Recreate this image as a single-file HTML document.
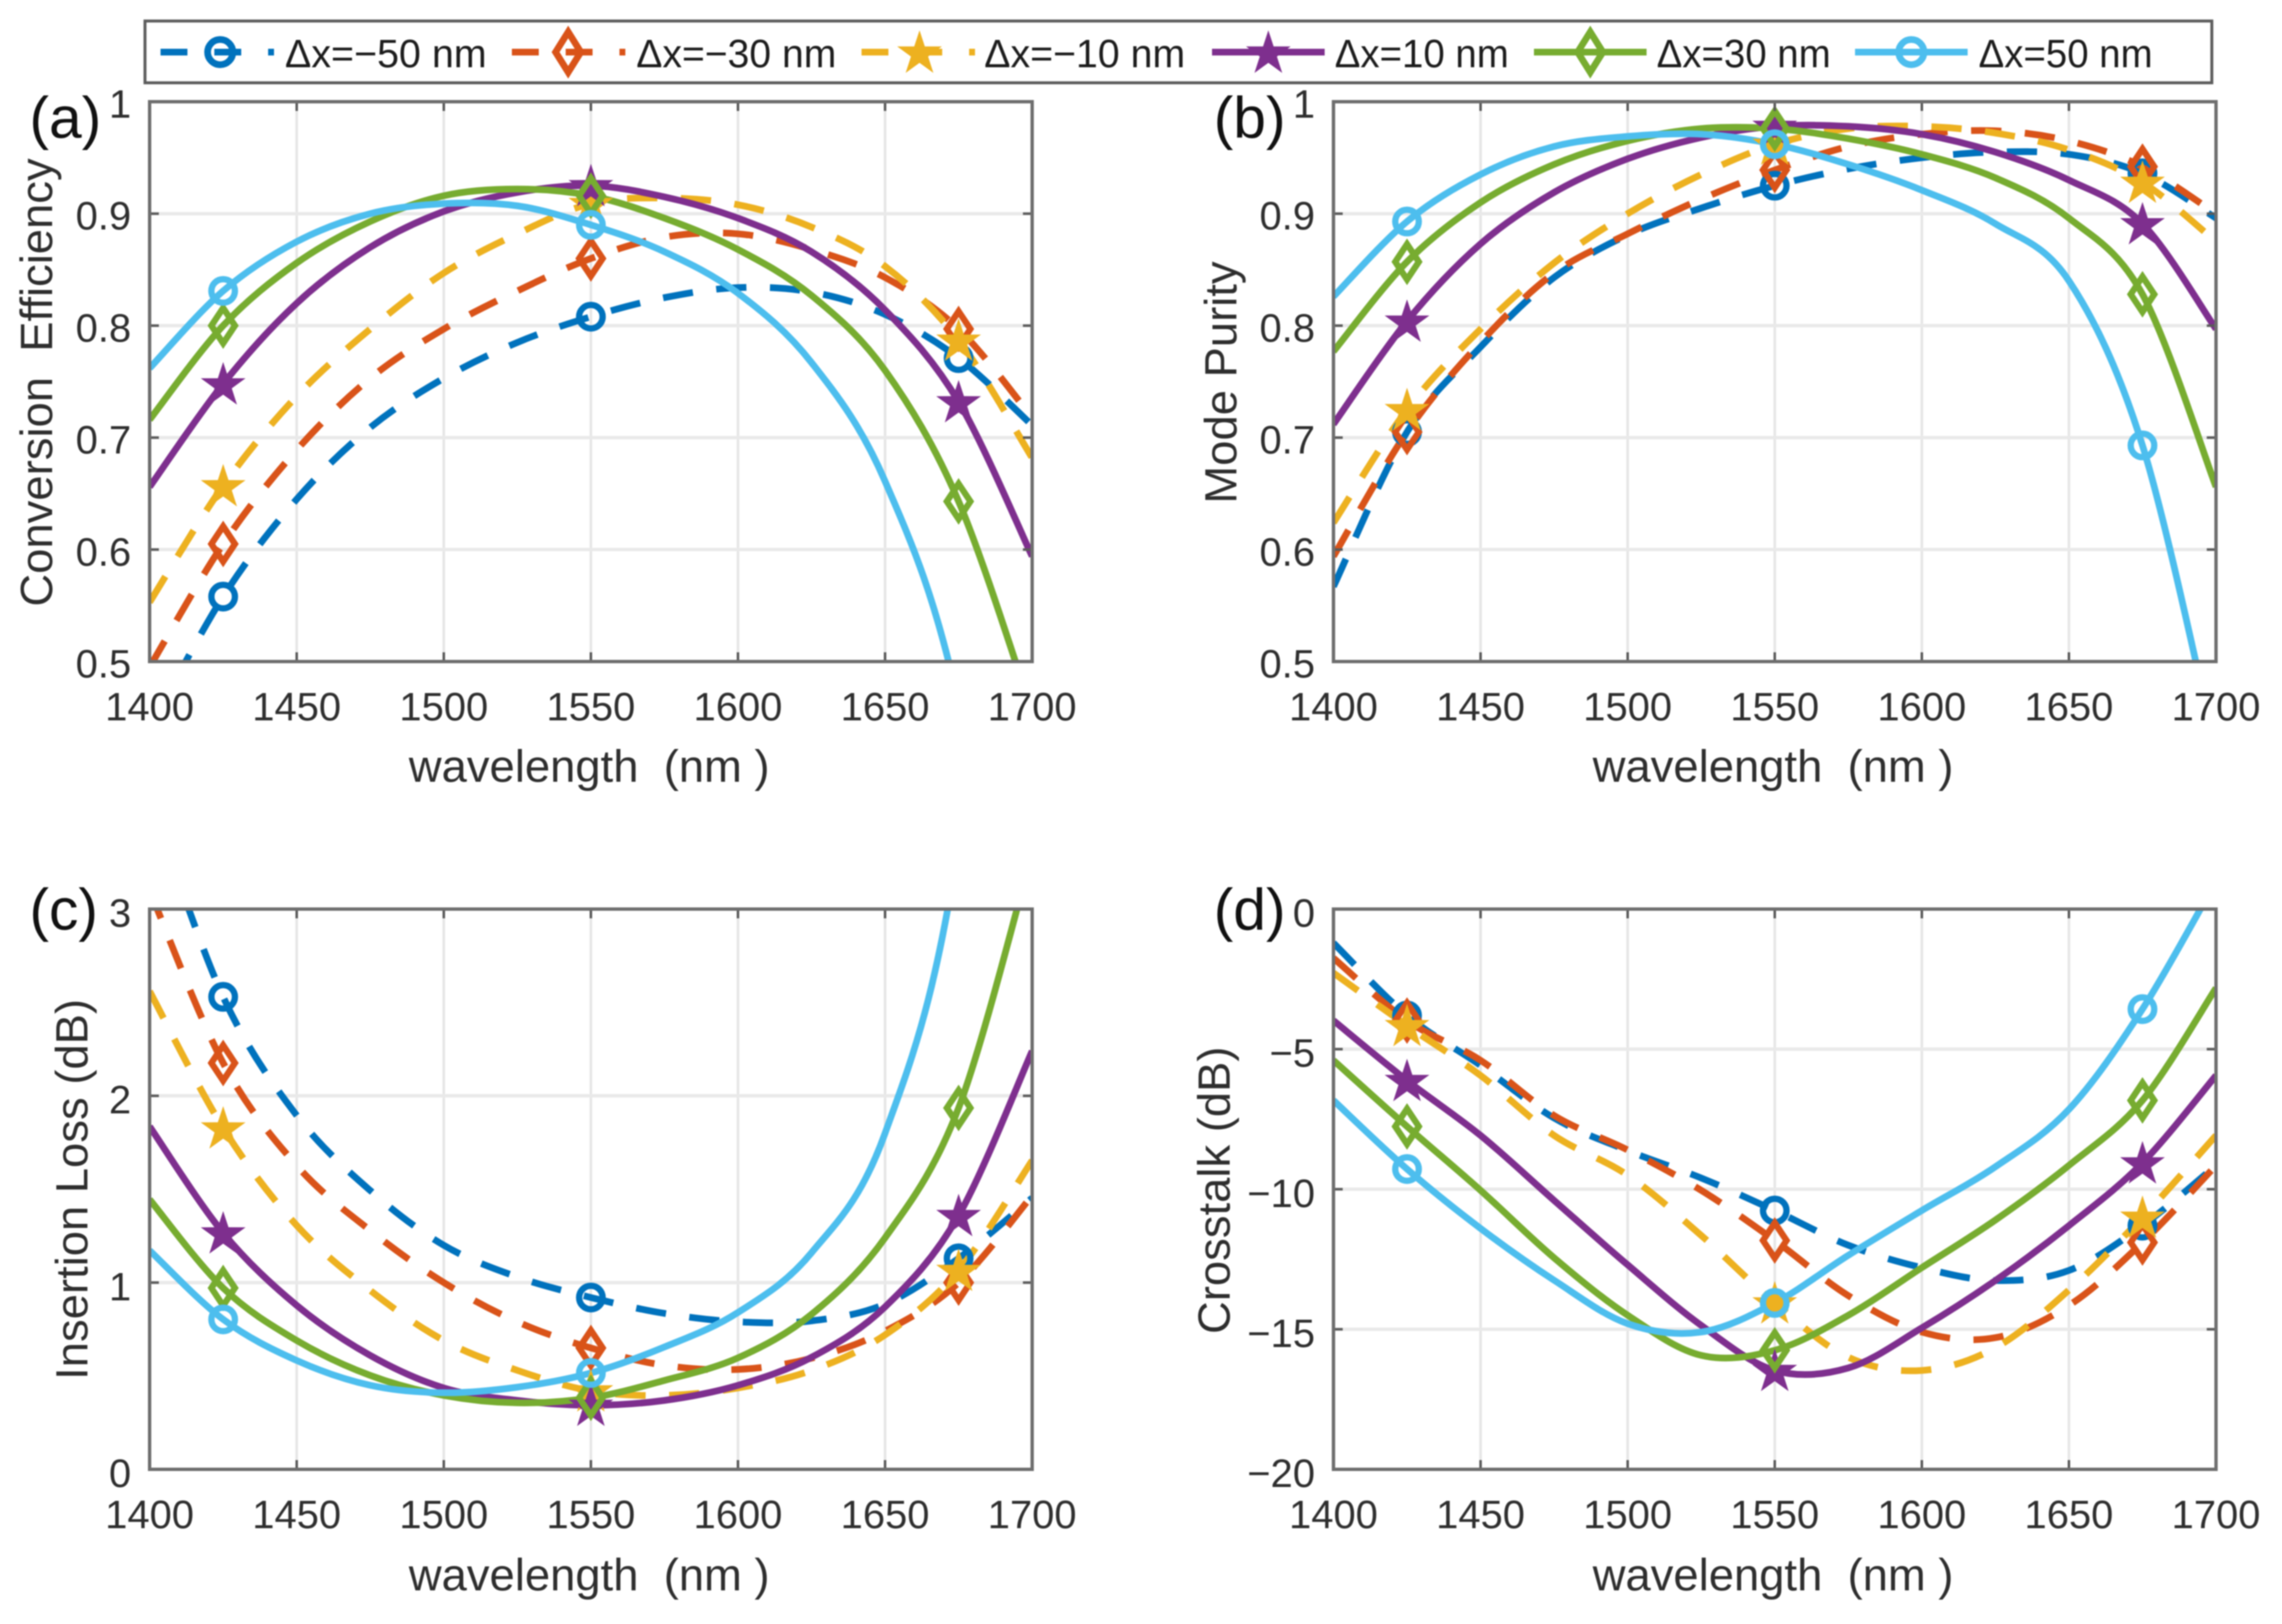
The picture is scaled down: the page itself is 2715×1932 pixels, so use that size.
<!DOCTYPE html>
<html lang="en">
<head>
<meta charset="utf-8">
<title>Mode converter performance versus wavelength</title>
<style>
html,body{margin:0;padding:0;background:#fff;}
#figure{display:block;width:2715px;height:1932px;filter:blur(0.8px);}
text{font-family:"Liberation Sans",sans-serif;fill:#2e2e2e;}
.legend-text{font-size:47.5px;fill:#1c1c1c;}
.panel-letter{font-size:70px;fill:#111;}
</style>
</head>
<body>
<svg id="figure" xmlns="http://www.w3.org/2000/svg" width="2715" height="1932" viewBox="0 0 2715 1932">
<rect x="0" y="0" width="2715" height="1932" fill="#fff"/>
<g id="plots"></g>
<g id="legend">
  <rect x="172.5" y="25" width="2459" height="73.5" fill="#fff" stroke="#5c5c5c" stroke-width="3.5"/>
  <g>
    <line x1="191" y1="62" x2="326" y2="62" stroke="#0072BD" stroke-width="8" stroke-dasharray="32 32"/>
    <circle cx="262" cy="62" r="15" fill="none" stroke="#0072BD" stroke-width="8"/>
    <text class="legend-text" x="339" y="80" textLength="240" lengthAdjust="spacingAndGlyphs">Δx=−50 nm</text>
  </g>
  <g>
    <line x1="609" y1="62" x2="744" y2="62" stroke="#D95319" stroke-width="8" stroke-dasharray="32 32"/>
    <polygon points="676,38 691,62 676,86 661,62" fill="none" stroke="#D95319" stroke-width="8"/>
    <text class="legend-text" x="757" y="80" textLength="238" lengthAdjust="spacingAndGlyphs">Δx=−30 nm</text>
  </g>
  <g>
    <line x1="1025" y1="62" x2="1160" y2="62" stroke="#EDB120" stroke-width="8" stroke-dasharray="32 32"/>
    <polygon transform="translate(1094 64)" points="0,-28 6.3,-8.7 26.6,-8.7 10.2,3.3 16.5,22.7 0,10.8 -16.5,22.7 -10.2,3.3 -26.6,-8.7 -6.3,-8.7" fill="#EDB120"/>
    <text class="legend-text" x="1171" y="80" textLength="239" lengthAdjust="spacingAndGlyphs">Δx=−10 nm</text>
  </g>
  <g>
    <line x1="1442" y1="62" x2="1576" y2="62" stroke="#7E2F8E" stroke-width="8"/>
    <polygon transform="translate(1509 64)" points="0,-28 6.3,-8.7 26.6,-8.7 10.2,3.3 16.5,22.7 0,10.8 -16.5,22.7 -10.2,3.3 -26.6,-8.7 -6.3,-8.7" fill="#7E2F8E"/>
    <text class="legend-text" x="1588" y="80" textLength="207" lengthAdjust="spacingAndGlyphs">Δx=10 nm</text>
  </g>
  <g>
    <line x1="1825" y1="62" x2="1959" y2="62" stroke="#77AC30" stroke-width="8"/>
    <polygon points="1892,38 1907,62 1892,86 1877,62" fill="none" stroke="#77AC30" stroke-width="8"/>
    <text class="legend-text" x="1971" y="80" textLength="207" lengthAdjust="spacingAndGlyphs">Δx=30 nm</text>
  </g>
  <g>
    <line x1="2207" y1="62" x2="2341" y2="62" stroke="#4DBEEE" stroke-width="8"/>
    <circle cx="2274" cy="62" r="15" fill="none" stroke="#4DBEEE" stroke-width="8"/>
    <text class="legend-text" x="2354" y="80" textLength="207" lengthAdjust="spacingAndGlyphs">Δx=50 nm</text>
  </g>
</g>
</svg>
<script>
// ---------- shared data ----------
const wavelengths = [1400,1425,1450,1475,1500,1525,1550,1575,1600,1625,1650,1675,1700];
const markerWavelengths = [1425,1550,1675];
const xTickValues = [1400,1450,1500,1550,1600,1650,1700];
const seriesNames = ['dx-minus-50','dx-minus-30','dx-minus-10','dx-10','dx-30','dx-50'];

// ---------- (a) conversion efficiency ----------
const effM50 = [0.44,0.558,0.645,0.709,0.753,0.785,0.808,0.825,0.834,0.83,0.81,0.771,0.711];
const effM30 = [0.495,0.605,0.689,0.753,0.797,0.831,0.86,0.879,0.882,0.868,0.843,0.797,0.718];
const effM10 = [0.553,0.657,0.737,0.797,0.847,0.882,0.909,0.914,0.908,0.888,0.853,0.787,0.682];
const effP10 = [0.656,0.748,0.82,0.87,0.902,0.919,0.925,0.915,0.896,0.866,0.814,0.732,0.594];
const effP30 = [0.716,0.80,0.856,0.893,0.916,0.922,0.916,0.896,0.868,0.827,0.76,0.643,0.455];
const effP50 = [0.762,0.831,0.875,0.90,0.909,0.907,0.89,0.866,0.829,0.767,0.661,0.462,0.06];
const effTicks = [0.5,0.6,0.7,0.8,0.9,1];
const effTickLabels = ['0.5','0.6','0.7','0.8','0.9','1'];

// ---------- (b) mode purity ----------
const purM50 = [0.567,0.705,0.781,0.843,0.881,0.905,0.925,0.94,0.95,0.955,0.953,0.936,0.896];
const purM30 = [0.594,0.705,0.785,0.847,0.882,0.913,0.939,0.96,0.971,0.974,0.965,0.942,0.90];
const purM10 = [0.624,0.725,0.797,0.856,0.90,0.935,0.962,0.976,0.978,0.972,0.957,0.928,0.875];
const purP10 = [0.712,0.804,0.873,0.919,0.949,0.968,0.978,0.978,0.971,0.955,0.93,0.891,0.797];
const purP30 = [0.777,0.857,0.91,0.944,0.965,0.976,0.976,0.967,0.953,0.932,0.896,0.828,0.656];
const purP50 = [0.826,0.893,0.935,0.96,0.969,0.971,0.962,0.944,0.921,0.891,0.84,0.693,0.42];
const purTicks = [0.5,0.6,0.7,0.8,0.9,1];
const purTickLabels = ['0.5','0.6','0.7','0.8','0.9','1'];

// ---------- (c) insertion loss ----------
const lossM50 = [3.6,2.53,1.895,1.493,1.20,1.03,0.92,0.835,0.79,0.795,0.885,1.13,1.453];
const lossM30 = [3.1,2.176,1.627,1.279,1.0,0.79,0.65,0.557,0.535,0.595,0.74,1.0,1.466];
const lossM10 = [2.56,1.828,1.306,0.958,0.69,0.53,0.42,0.396,0.436,0.53,0.72,1.065,1.654];
const lossP10 = [1.836,1.266,0.878,0.61,0.436,0.369,0.343,0.369,0.45,0.60,0.87,1.359,2.24];
const lossP30 = [1.445,0.971,0.69,0.503,0.396,0.356,0.383,0.476,0.597,0.83,1.24,1.935,3.3];
const lossP50 = [1.172,0.803,0.583,0.45,0.41,0.44,0.516,0.655,0.84,1.16,1.8,3.35,7];
const lossTicks = [0,1,2,3];
const lossTickLabels = ['0','1','2','3'];

// ---------- (d) crosstalk ----------
const xtM50 = [-1.21,-3.8,-5.58,-7.46,-8.62,-9.6,-10.76,-12.0,-12.8,-13.26,-12.9,-11.3,-9.15];
const xtM30 = [-1.75,-3.98,-5.4,-7.37,-8.6,-10.04,-11.83,-13.8,-15.1,-15.3,-14.15,-11.9,-9.15];
const xtM10 = [-2.28,-4.16,-5.94,-8.08,-9.5,-11.65,-14.06,-16.0,-16.47,-15.66,-13.6,-11.0,-8.08];
const xtP10 = [-3.98,-6.12,-8.08,-10.4,-12.7,-14.86,-16.47,-16.38,-14.95,-13.26,-11.3,-9.06,-5.94];
const xtP30 = [-5.4,-7.76,-10.04,-12.45,-14.5,-15.93,-15.75,-14.5,-12.8,-11.1,-9.15,-6.83,-2.82];
const xtP50 = [-6.83,-9.28,-11.4,-13.25,-14.8,-15.1,-14.06,-12.36,-10.76,-9.2,-7.15,-3.57,1.0];
const xtTicks = [-20,-15,-10,-5,0];
const xtTickLabels = ['−20','−15','−10','−5','0'];

// ---------- styling ----------
const seriesColors = ['#0072BD','#D95319','#EDB120','#7E2F8E','#77AC30','#4DBEEE'];
const seriesDashed = [true,true,true,false,false,false];
const seriesMarkers = ['circle','diamond','star','star','diamond','circle'];

const NS = 'http://www.w3.org/2000/svg';
function make(tag, attrs, parent) {
  const el = document.createElementNS(NS, tag);
  for (const k in attrs) el.setAttribute(k, attrs[k]);
  parent.appendChild(el);
  return el;
}

function smoothPath(pts) {
  let d = 'M' + pts[0][0].toFixed(2) + ' ' + pts[0][1].toFixed(2);
  for (let i = 0; i < pts.length - 1; i++) {
    const p0 = pts[Math.max(i - 1, 0)], p1 = pts[i], p2 = pts[i + 1], p3 = pts[Math.min(i + 2, pts.length - 1)];
    const c1x = p1[0] + (p2[0] - p0[0]) / 6, c1y = p1[1] + (p2[1] - p0[1]) / 6;
    const c2x = p2[0] - (p3[0] - p1[0]) / 6, c2y = p2[1] - (p3[1] - p1[1]) / 6;
    d += 'C' + c1x.toFixed(2) + ' ' + c1y.toFixed(2) + ' ' + c2x.toFixed(2) + ' ' + c2y.toFixed(2) + ' ' + p2[0].toFixed(2) + ' ' + p2[1].toFixed(2);
  }
  return d;
}

function interpolate(xs, ys, x) {
  for (let i = 0; i < xs.length - 1; i++) {
    if (x >= xs[i] && x <= xs[i + 1]) {
      return ys[i] + (ys[i + 1] - ys[i]) * (x - xs[i]) / (xs[i + 1] - xs[i]);
    }
  }
  return ys[ys.length - 1];
}

function starPoints(cx, cy, R) {
  const out = [];
  for (let i = 0; i < 10; i++) {
    const r = i % 2 === 0 ? R : R * 0.385;
    const a = -Math.PI / 2 + i * Math.PI / 5;
    out.push((cx + r * Math.cos(a)).toFixed(2) + ',' + (cy + r * Math.sin(a)).toFixed(2));
  }
  return out.join(' ');
}

function drawMarker(kind, cx, cy, color, parent) {
  let m;
  if (kind === 'circle') {
    m = make('circle', {cx: cx, cy: cy, r: 14, fill: 'none', stroke: color, 'stroke-width': 7.5}, parent);
  } else if (kind === 'diamond') {
    m = make('polygon', {points: cx + ',' + (cy - 21) + ' ' + (cx + 14) + ',' + cy + ' ' + cx + ',' + (cy + 21) + ' ' + (cx - 14) + ',' + cy, fill: 'none', stroke: color, 'stroke-width': 7.5}, parent);
  } else {
    m = make('polygon', {points: starPoints(cx, cy + 2, 28), fill: color}, parent);
  }
  return m;
}

function drawPanel(cfg) {
  const root = document.getElementById('plots');
  const g = make('g', {}, root);
  
  

  const xScale = v => cfg.x0 + (v - 1400) / 300 * (cfg.x1 - cfg.x0);
  const yScale = v => cfg.y1 - (v - cfg.yMin) / (cfg.yMax - cfg.yMin) * (cfg.y1 - cfg.y0);

  const clipId = 'clip-' + cfg.key;
  const defs = make('defs', {}, g);
  const clip = make('clipPath', {id: clipId}, defs);
  make('rect', {x: cfg.x0, y: cfg.y0, width: cfg.x1 - cfg.x0, height: cfg.y1 - cfg.y0}, clip);

  const grid = make('g', {}, g);
  
  
  xTickValues.forEach(v => {
    const line = make('line', {x1: xScale(v), x2: xScale(v), y1: cfg.y0, y2: cfg.y1, stroke: '#e6e6e6', 'stroke-width': 3}, grid);
    
    
  });
  cfg.yTicks.forEach(v => {
    const line = make('line', {x1: cfg.x0, x2: cfg.x1, y1: yScale(v), y2: yScale(v), stroke: '#e9e9e9', 'stroke-width': 4}, grid);
    
    
  });

  const curves = make('g', {'clip-path': 'url(#' + clipId + ')'}, g);
  
  
  cfg.series.forEach((vals, s) => {
    const pts = wavelengths.map((w, i) => [xScale(w), yScale(vals[i])]);
    const attrs = {d: smoothPath(pts), fill: 'none', stroke: seriesColors[s], 'stroke-width': 8, 'stroke-linejoin': 'round'};
    if (seriesDashed[s]) attrs['stroke-dasharray'] = '36 28';
    const path = make('path', attrs, curves);
    
    
  });
  const markers = make('g', {}, g);
  
  
  cfg.series.forEach((vals, s) => {
    markerWavelengths.forEach(w => {
      const value = interpolate(wavelengths, vals, w);
      if (value < cfg.yMin || value > cfg.yMax) return;
      const mark = drawMarker(seriesMarkers[s], xScale(w), yScale(value), seriesColors[s], markers);
      
      
    });
  });

  const axes = make('g', {}, g);
  
  
  xTickValues.forEach(v => {
    const px = xScale(v);
    const t1 = make('line', {x1: px, x2: px, y1: cfg.y1, y2: cfg.y1 - 11, stroke: '#5a5a5a', 'stroke-width': 3}, axes);
    
    
    const t2 = make('line', {x1: px, x2: px, y1: cfg.y0, y2: cfg.y0 + 11, stroke: '#5a5a5a', 'stroke-width': 3}, axes);
    
    
    const label = make('text', {x: px, y: cfg.y1 + cfg.xTickDrop, 'text-anchor': 'middle', 'font-size': 47.5}, axes);
    label.textContent = String(v);
    
    
  });
  cfg.yTicks.forEach((v, i) => {
    const py = yScale(v);
    const t1 = make('line', {x1: cfg.x0, x2: cfg.x0 + 11, y1: py, y2: py, stroke: '#5a5a5a', 'stroke-width': 3}, axes);
    
    
    const t2 = make('line', {x1: cfg.x1, x2: cfg.x1 - 11, y1: py, y2: py, stroke: '#5a5a5a', 'stroke-width': 3}, axes);
    
    
    const label = make('text', {x: cfg.x0 - 22, y: py + 17 + cfg.yLabelShift, 'text-anchor': 'end', 'font-size': 47.5}, axes);
    label.textContent = cfg.yTickLabels[i];
    
    
  });
  const box = make('rect', {x: cfg.x0, y: cfg.y0, width: cfg.x1 - cfg.x0, height: cfg.y1 - cfg.y0, fill: 'none', stroke: '#6e6e6e', 'stroke-width': 4}, axes);
  
  

  const xTitle = make('text', {x: (cfg.x0 + cfg.x1) / 2 - 2, y: cfg.y1 + cfg.xTitleDrop, 'text-anchor': 'middle', 'font-size': 54, style: 'white-space:pre'}, g);
  xTitle.textContent = 'wavelength  (nm )';
  
  

  const yTitle = make('text', {transform: 'translate(' + cfg.yTitleX + ' ' + cfg.yTitleY + ') rotate(-90)', 'text-anchor': 'middle', 'font-size': 54, style: 'white-space:pre'}, g);
  yTitle.textContent = cfg.yTitle;
  
  

  const letter = make('text', {x: cfg.letterX, y: cfg.letterY, class: 'panel-letter'}, g);
  letter.textContent = '(' + cfg.key + ')';
  
  
}

drawPanel({key: 'a', x0: 178, x1: 1228, y0: 121, y1: 787, yMin: 0.5, yMax: 1,
  yTicks: effTicks, yTickLabels: effTickLabels, yLabelShift: 2, xTickDrop: 70, xTitleDrop: 143,
  series: [effM50, effM30, effM10, effP10, effP30, effP50],
  yTitle: 'Conversion  Efficiency', yTitleX: 62, yTitleY: 455, letterX: 35, letterY: 164});
drawPanel({key: 'b', x0: 1586.5, x1: 2636.5, y0: 121, y1: 787, yMin: 0.5, yMax: 1,
  yTicks: purTicks, yTickLabels: purTickLabels, yLabelShift: 2, xTickDrop: 70, xTitleDrop: 143,
  series: [purM50, purM30, purM10, purP10, purP30, purP50],
  yTitle: 'Mode Purity', yTitleX: 1471, yTitleY: 455, letterX: 1444, letterY: 164});
drawPanel({key: 'c', x0: 178, x1: 1228, y0: 1081.5, y1: 1748, yMin: 0, yMax: 3,
  yTicks: lossTicks, yTickLabels: lossTickLabels, yLabelShift: 4, xTickDrop: 70, xTitleDrop: 144,
  series: [lossM50, lossM30, lossM10, lossP10, lossP30, lossP50],
  yTitle: 'Insertion Loss (dB)', yTitleX: 104, yTitleY: 1415, letterX: 35, letterY: 1106});
drawPanel({key: 'd', x0: 1586.5, x1: 2636.5, y0: 1081.5, y1: 1748, yMin: -20, yMax: 0,
  yTicks: xtTicks, yTickLabels: xtTickLabels, yLabelShift: 4, xTickDrop: 70, xTitleDrop: 144,
  series: [xtM50, xtM30, xtM10, xtP10, xtP30, xtP50],
  yTitle: 'Crosstalk (dB)', yTitleX: 1463, yTitleY: 1416, letterX: 1444, letterY: 1106});
</script>
</body>
</html>
